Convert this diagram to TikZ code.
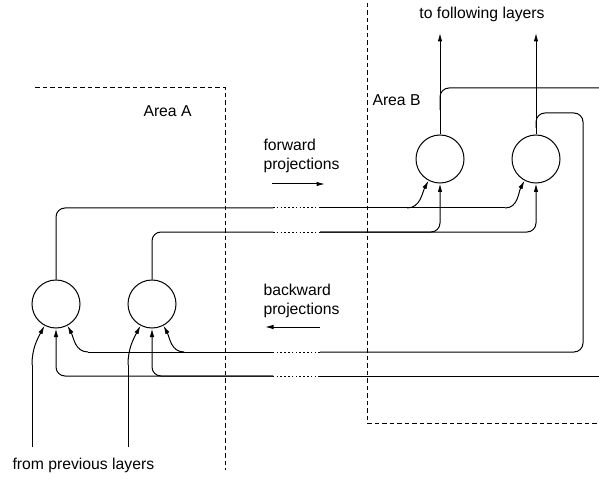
\documentclass[tikz,border=0pt]{standalone}
\usepackage{fontspec}
\setmainfont{Liberation Sans}
\usetikzlibrary{arrows.meta}
\begin{document}
\begin{tikzpicture}[x=1bp,y=-1bp,line width=1bp,
  neuron/.style={circle,draw,minimum size=48bp,inner sep=0pt},
  wire/.style={rounded corners=9bp},
  tip/.style={-{Latex[length=8.5bp,width=4.5bp]}},
  gap/.style={dash pattern=on 1.6bp off 2.2bp},
  arealine/.style={dash pattern=on 4.5bp off 3bp},
  lbl/.style={font=\fontsize{15.8}{19}\selectfont,inner sep=0pt}]
\useasboundingbox (0,0) rectangle (599,479);

% area borders
\draw[arealine] (35,88) -- (225,88) -- (225,470);
\draw[arealine] (367,3) -- (367,423) -- (599,423);
\node[lbl,anchor=base west] (la) at (143,117) {Area A};
\node[lbl,anchor=base west] (lb) at (372,106) {Area B};

% neurons
\node[neuron] (a1) at (56,304) {};
\node[neuron] (a2) at (152,304) {};
\node[neuron] (b1) at (440,159) {};
\node[neuron] (b2) at (536,159) {};

% helper points
\coordinate (f1s) at (273,208); \coordinate (f1e) at (320,208);
\coordinate (f2s) at (273,232); \coordinate (f2e) at (320,232);
\coordinate (r1s) at (273,352); \coordinate (r1e) at (320,352);
\coordinate (r2s) at (273,376); \coordinate (r2e) at (320,376);
\coordinate (out1) at (440,33);
\coordinate (out2) at (536,33);
\coordinate (in1) at (32,447);
\coordinate (in2) at (128,447);
\coordinate (edgeT) at (599,88);
\coordinate (edgeB) at (599,376);

% forward projection from a1
\draw[wire] (a1.north) |- (f1s);
\draw[gap] (f1s) -- (f1e);
\draw (f1e) -- (407,208);
\draw[tip] (407,208) to[out=0,in=-118] (b1.-118);
\draw (407,208) -- (505,208);
\draw[tip] (505,208) to[out=0,in=-118] (b2.-118);

% forward projection from a2
\draw[wire] (a2.north) |- (f2s);
\draw[gap] (f2s) -- (f2e);
\draw[wire,tip] (f2e) -| (b1.south);
\draw[wire,tip] (f2e) -| (b2.south);

% outputs
\draw[tip] (b1.north) -- (out1);
\draw[tip] (b2.north) -- (out2);

% backward projection from b1
\draw[wire] (440,110) |- (edgeT);
\draw (edgeB) -- (r2e);
\draw[gap] (r2e) -- (r2s);
\draw[wire,tip] (r2s) -| (a2.south);
\draw[wire,tip] (r2s) -| (a1.south);

% backward projection from b2
\draw[wire] (536,128) |- (583,113) |- (r1e);
\draw[gap] (r1e) -- (r1s);
\draw (r1s) -- (184,352);
\draw[tip] (184,352) to[out=180,in=-62] (a2.-62);
\draw (184,352) -- (88,352);
\draw[tip] (88,352) to[out=180,in=-62] (a1.-62);

% inputs
\draw (in1) -- (32,365);
\draw[tip] (32,365) to[out=90,in=-118] (a1.-118);
\draw (in2) -- (128,365);
\draw[tip] (128,365) to[out=90,in=-118] (a2.-118);

% direction hints
\draw[tip] (272,184) -- (325,184);
\draw[tip] (320,327) -- (265,327);
\node[lbl,anchor=base west] (fw) at (263,151) {forward};
\node[lbl,anchor=base west] (fp) at (263,170) {projections};
\node[lbl,anchor=base west] (bw) at (263,295) {backward};
\node[lbl,anchor=base west] (bp) at (263,314) {projections};

% layer labels
\node[lbl,anchor=base] (tl) at (482,19) {to following layers};
\node[lbl,anchor=base west] (fl) at (12,469) {from previous layers};
\end{tikzpicture}
\end{document}
